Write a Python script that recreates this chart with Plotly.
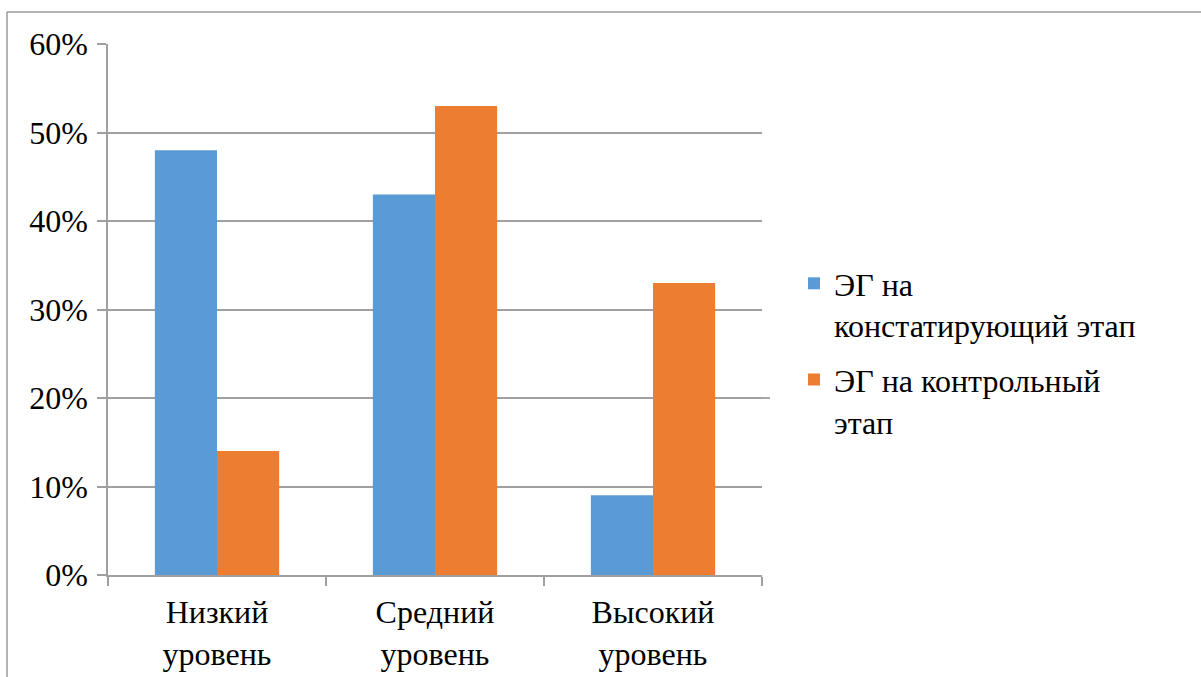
import plotly.graph_objects as go

categories = ["Низкий<br>уровень", "Средний<br>уровень", "Высокий<br>уровень"]
series_names = ["ЭГ на<br>констатирующий этап", "ЭГ на контрольный<br>этап"]
values_const = [0.48, 0.43, 0.09]
values_control = [0.14, 0.53, 0.33]
colors = ["#5B9BD5", "#ED7D31"]
y_ticks = [0, 0.1, 0.2, 0.3, 0.4, 0.5, 0.6]

W, H = 1201, 677
L, R, T, B = 108, 762, 44, 575
FAMILY = "Liberation Serif"
SIZE = 32

fig = go.Figure()
fig.add_trace(go.Bar(x=categories, y=values_const, name=series_names[0], legendgroup="a",
                     marker=dict(color=colors[0], line=dict(width=0))))
fig.add_trace(go.Bar(x=categories, y=values_control, name=series_names[1], legendgroup="b",
                     marker=dict(color=colors[1], line=dict(width=0))))

grid = "#A0A0A0"

def px_x(x):
    return (x - L) / (R - L)

def px_y(y):
    return (B - y) / (B - T)

fig.update_layout(
    width=W, height=H,
    margin=dict(l=L, r=W - R, t=T, b=H - B, pad=0, autoexpand=False),
    paper_bgcolor="white", plot_bgcolor="white",
    font=dict(family=FAMILY, size=SIZE, color="black"),
    barmode="group", bargap=0.43, bargroupgap=0,
    showlegend=True,
    legend=dict(x=px_x(794), y=px_y(256), xanchor="left", yanchor="top",
                valign="top", font=dict(family=FAMILY, size=SIZE, color="black"),
                bgcolor="rgba(0,0,0,0)", itemwidth=30,
                traceorder="grouped", tracegroupgap=10),
    xaxis=dict(showline=True, linecolor=grid, linewidth=1.5, ticks="outside",
               tickson="boundaries", ticklen=9, tickcolor=grid, tickwidth=1.5,
               showgrid=False, tickfont=dict(family=FAMILY, size=SIZE, color="black"),
               ticklabelstandoff=8, automargin=False),
    yaxis=dict(range=[0, 0.6], tickvals=y_ticks, tickformat=".0%",
               showline=True, linecolor=grid, linewidth=1.5, ticks="outside",
               ticklen=9, tickcolor=grid, tickwidth=1.5,
               showgrid=True, gridcolor=grid, gridwidth=1.5, zeroline=False,
               tickfont=dict(family=FAMILY, size=SIZE, color="black"), ticklabelstandoff=3,
               automargin=False),
    shapes=[
        dict(type="line", xref="paper", yref="paper", x0=px_x(7), x1=px_x(1205), y0=px_y(12), y1=px_y(12),
             line=dict(color="#9A9A9A", width=1.5)),
        dict(type="line", xref="paper", yref="paper", x0=px_x(7), x1=px_x(7), y0=px_y(12), y1=px_y(680),
             line=dict(color="#9A9A9A", width=1.5)),
        dict(type="line", xref="paper", yref="y", x0=1.0, x1=px_x(770), y0=0.2, y1=0.2,
             line=dict(color="#8A8A8A", width=1.5)),
    ],
)

fig.write_html("out.html")
